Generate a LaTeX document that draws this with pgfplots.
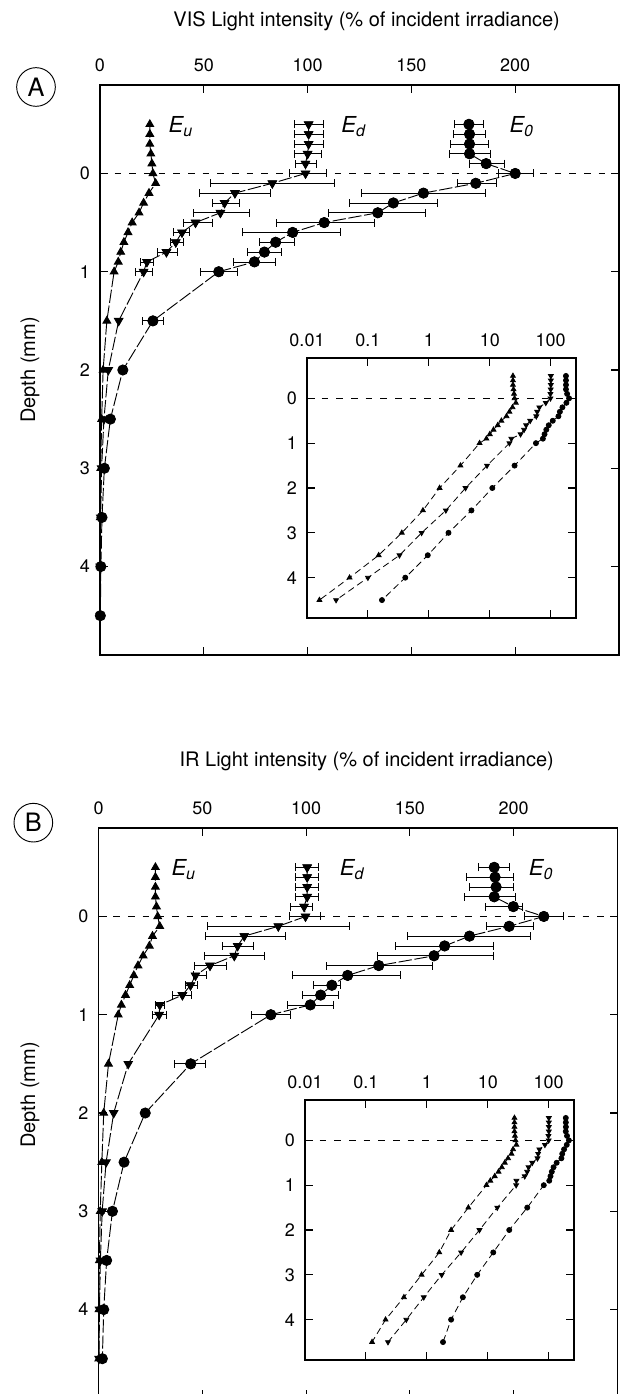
\documentclass[border=0pt]{standalone}
\usepackage{fontspec}
\setmainfont{TeX Gyre Heros}
\usepackage{pgfplots}
\pgfplotsset{compat=1.18}
\usepackage{pgfplotstable}

% ---- panel A (VIS) ----
\pgfplotstableread{
d v
-0.5 24
-0.4 24
-0.3 24
-0.2 24.5
-0.1 25
0.0 25.5
0.1 26.8
0.2 23.6
0.3 21
0.4 18.8
0.5 15.5
0.6 13.5
0.7 11.5
0.8 10
0.9 8.8
1.0 6.8
1.5 3.3
2.0 1.5
2.5 0.8
3.0 0.36
3.5 0.15
4.0 0.05
4.5 0.016
}\EuA
\pgfplotstableread{
d v em ep
-0.5 100.5 7 7
-0.4 100.5 7 7
-0.3 100.5 7 7
-0.2 100 6.5 6.5
-0.1 99 5 5
0.0 99 8 10
0.1 83 30 30
0.2 65 17 17
0.3 60 6 7
0.4 58 13 14
0.5 46 6 8
0.6 39.5 4 3.5
0.7 36.5 2.5 3.5
0.8 32 4.5 5.5
0.9 22.6 3 3
1.0 21 4 4
1.5 9 0 0
2.0 4 0 0
2.5 1.9 0 0
3.0 0.76 0 0
3.5 0.33 0 0
4.0 0.1 0 0
4.5 0.03 0 0
}\EdA
\pgfplotstableread{
d v em ep
-0.5 177.7 7 7
-0.4 178 8 7.5
-0.3 178 9 9
-0.2 178 9.5 10
-0.1 186 8 9
0.0 200 8 9
0.1 181 9 10
0.2 155.8 30 30
0.3 141.3 21 21
0.4 133.8 24 23
0.5 108 23 24
0.6 92.8 24 23
0.7 84.6 8 9
0.8 79.2 8 8
0.9 74.4 10 10
1.0 57.2 9 9
1.5 25.5 5 5
2.0 11 0 0
2.5 5 0 0
3.0 2.1 0 0
3.5 0.96 0 0
4.0 0.41 0 0
4.5 0.17 0 0
}\EoA

% ---- panel B (IR) ----
\pgfplotstableread{
d v
-0.5 27.4
-0.4 27.4
-0.3 27.4
-0.2 27.4
-0.1 27.9
0.0 28.5
0.1 29.5
0.2 26
0.3 24.5
0.4 21.5
0.5 19
0.6 17
0.7 15
0.8 13
0.9 11
1.0 9.5
1.5 4.8
2.0 2.5
2.5 1.6
3.0 0.82
3.5 0.42
4.0 0.21
4.5 0.126
}\EuB
\pgfplotstableread{
d v em ep
-0.5 100.5 5.5 5.5
-0.4 100.5 5.5 5.5
-0.3 100.5 5.5 5.5
-0.2 100.5 5.5 5.5
-0.1 99 6.5 4
0.0 99.7 8 7.3
0.1 86.6 34 34
0.2 70.2 18.7 19.6
0.3 67 7.5 7.6
0.4 65.4 14.4 14.3
0.5 53.7 7.4 8
0.6 46.7 1.2 5.1
0.7 44.3 2.3 3.1
0.8 40.4 4.8 4.3
0.9 29.5 2 2
1.0 29.2 3.2 3.5
1.5 14.3 0 0
2.0 7.3 0 0
2.5 3.65 0 0
3.0 1.75 0 0
3.5 0.89 0 0
4.0 0.46 0 0
4.5 0.23 0 0
}\EdB
\pgfplotstableread{
d v em ep
-0.5 190.6 7.6 7.4
-0.4 191 14 9
-0.3 191.5 13 8.5
-0.2 190.6 14.6 10.4
-0.1 199.8 13.3 4.2
0.0 214.5 9.5 9.5
0.1 197.8 10.8 11.7
0.2 178.7 30 29.3
0.3 166.7 23.7 23.3
0.4 161.6 27.2 28.4
0.5 135 25.4 26
0.6 120 26.4 25.6
0.7 112.4 8.7 4
0.8 107 9 8.6
0.9 102 11 11
1.0 83 9.3 9.5
1.5 44.4 8 7
2.0 22.5 0 0
2.5 12.3 0 0
3.0 6.7 0 0
3.5 3.9 0 0
4.0 2.5 0 0
4.5 1.84 0 0
}\EoB

\pgfplotsset{
  common/.style={
    scale only axis, anchor=north west, clip=false,
    ymin=-0.9, ymax=4.9, y dir=reverse, ytick={0,1,2,3,4},
    xtick pos=both, ytick pos=both, xticklabel pos=upper, yticklabel pos=left,
    tick align=inside, major tick length=6pt,
    axis line style={line width=0.9pt},
    tick style={line width=0.8pt, black},
    /pgf/number format/assume math mode=true,
    ticklabel style={font=\fontsize{13.5}{15}\selectfont},
    yticklabel style={xshift=-4pt},
  },
  mainax/.style={common, width=389.25pt, height=427.5pt,
    xmin=0, xmax=250, xtick={0,50,100,150,200},
    xticklabel style={yshift=6.5pt}},
  insetax/.style={common, width=201.75pt, height=195pt,
    xmin=0.01, xmax=260, xtick={0.01,0.1,1,10,100},
    xticklabels={0.01,0.1,1,10,100}, xminorticks=false,
    xticklabel style={yshift=5pt},
    axis background/.style={fill=white}},
  mline/.style={black, line width=0.7pt, dash pattern=on 10pt off 2pt},
  iline/.style={black, line width=0.6pt, dash pattern=on 5pt off 3pt},
  zline/.style={black, line width=0.7pt, dash pattern=on 5pt off 6pt},
  up/.style={mark=triangle*, mark size=#1, mark options={solid, fill=black}},
  dn/.style={mark=triangle*, mark size=#1, mark options={solid, fill=black, rotate=180}},
  dot/.style={mark=*, mark size=#1, mark options={solid, fill=black}},
  ebar/.style={only marks, forget plot, black,
    error bars/x dir=both, error bars/x explicit,
    error bars/error mark=|,
    error bars/error bar style={line width=0.6pt, solid},
    error bars/error mark options={line width=0.6pt, mark size=3pt, solid}},
}
\tikzset{
  elab/.style={anchor=base west, font=\fontsize{16.5}{18}\selectfont\itshape},
  ttl/.style={font=\fontsize{15}{17}\selectfont},
  pan/.style={draw, circle, line width=0.7pt, minimum size=29pt, inner sep=0pt, font=\fontsize{19}{21}\selectfont},
}
\newcommand{\sub}[1]{\raisebox{-0.2em}{\fontsize{12}{12}\selectfont\itshape #1}}

\begin{document}
\begin{tikzpicture}

% ===== Panel A =====
\node[ttl] at (275pt,-16pt) {VIS Light intensity (\% of incident irradiance)};
\node[pan] at (27pt,-65.25pt) {A};
\node[ttl, rotate=90] at (22.5pt,-277.5pt) {Depth (mm)};

\begin{axis}[mainax, at={(75pt,-63.75pt)}]
\addplot[zline] coordinates {(0,0) (250,0)};
\addplot[dn=3.6pt, ebar, restrict y to domain=-1:1.05] table[x=v, y=d, x error minus=em, x error plus=ep] {\EdA};
\addplot[dot=3.8pt, ebar, restrict y to domain=-1:1.55] table[x=v, y=d, x error minus=em, x error plus=ep] {\EoA};
\addplot[mline, up=3.3pt] table[x=v, y=d] {\EuA};
\addplot[mline, dn=3.6pt] table[x=v, y=d] {\EdA};
\addplot[mline, dot=3.8pt] table[x=v, y=d] {\EoA};
\node[elab] at (axis cs:30.8,-0.42) {E\sub{u}};
\node[elab] at (axis cs:114,-0.42) {E\sub{d}};
\node[elab] at (axis cs:195,-0.42) {E\sub{0}};
\end{axis}

\begin{semilogxaxis}[insetax, at={(230.25pt,-268.5pt)}]
\addplot[zline] coordinates {(0.01,0) (260,0)};
\addplot[iline, up=2.1pt] table[x=v, y=d] {\EuA};
\addplot[iline, dn=2.1pt] table[x=v, y=d] {\EdA};
\addplot[iline, dot=1.9pt] table[x=v, y=d] {\EoA};
\end{semilogxaxis}

% ===== Panel B =====
\node[ttl] at (275pt,-571pt) {IR Light intensity (\% of incident irradiance)};
\node[pan] at (25pt,-617pt) {B};
\node[ttl, rotate=90] at (22.5pt,-821.25pt) {Depth (mm)};

\begin{axis}[mainax, at={(73.9pt,-621pt)}]
\addplot[zline] coordinates {(0,0) (250,0)};
\addplot[dn=3.6pt, ebar, restrict y to domain=-1:1.05] table[x=v, y=d, x error minus=em, x error plus=ep] {\EdB};
\addplot[dot=3.8pt, ebar, restrict y to domain=-1:1.55] table[x=v, y=d, x error minus=em, x error plus=ep] {\EoB};
\addplot[mline, up=3.3pt] table[x=v, y=d] {\EuB};
\addplot[mline, dn=3.6pt] table[x=v, y=d] {\EdB};
\addplot[mline, dot=3.8pt] table[x=v, y=d] {\EoB};
\node[elab] at (axis cs:32.9,-0.42) {E\sub{u}};
\node[elab] at (axis cs:114,-0.42) {E\sub{d}};
\node[elab] at (axis cs:205,-0.42) {E\sub{0}};
\end{axis}

\begin{semilogxaxis}[insetax, at={(228.75pt,-825pt)}]
\addplot[zline] coordinates {(0.01,0) (260,0)};
\addplot[iline, up=2.1pt] table[x=v, y=d] {\EuB};
\addplot[iline, dn=2.1pt] table[x=v, y=d] {\EdB};
\addplot[iline, dot=1.9pt] table[x=v, y=d] {\EoB};
\end{semilogxaxis}

\pgfresetboundingbox
\useasboundingbox (0pt,0pt) rectangle (467.25pt,-1045.5pt);
\end{tikzpicture}
\end{document}
